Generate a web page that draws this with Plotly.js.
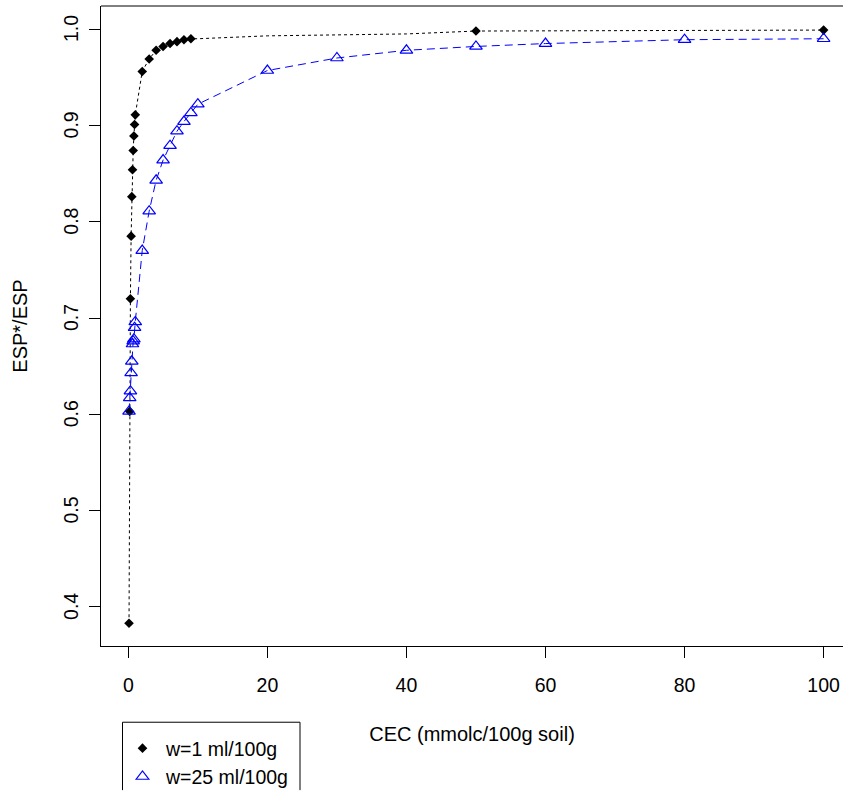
<!DOCTYPE html>
<html>
<head>
<meta charset="utf-8">
<script src="https://cdn.plot.ly/plotly-3.0.1.min.js"></script>
<style>html,body{margin:0;padding:0;background:#fff;overflow:hidden;width:843px;height:796px;}</style>
</head>
<body>
<div id="chart" style="width:843px;height:796px;overflow:hidden;"></div>
<script>
// ---- data ----
const cecValues = [0.1,0.2,0.3,0.4,0.5,0.6,0.7,0.8,0.9,1.0,2,3,4,5,6,7,8,9];
const w1Ratio   = [0.383,0.603,0.720,0.785,0.826,0.854,0.874,0.889,0.901,0.911,0.956,0.969,0.978,0.982,0.985,0.987,0.989,0.990];
const w1ExtraX  = [50,100];
const w1ExtraY  = [0.998,0.999];
// points along the dotted w=1 curve between the markers
const w1CurveX  = [10,20,30,40];
const w1CurveY  = [0.990,0.993,0.994,0.995];

const w25X = [0.1,0.2,0.3,0.4,0.5,0.6,0.7,0.8,0.9,1.0,2,3,4,5,6,7,8,9,10,20,30,40,50,60,80,100];
const w25Y = [0.603,0.617,0.624,0.643,0.655,0.673,0.676,0.678,0.690,0.696,0.770,0.811,0.843,0.864,0.879,0.894,0.904,0.913,0.922,0.957,0.970,0.978,0.982,0.985,0.989,0.990];

const xTicks = [0,20,40,60,80,100];
const yTicks = [0.4,0.5,0.6,0.7,0.8,0.9,1.0];
const legendNames = ["w=1 ml/100g","w=25 ml/100g"];
const xTitle = "CEC (mmolc/100g soil)";
const yTitle = "ESP*/ESP";

// ---- build traces ----
const w1X = cecValues.concat(w1ExtraX);
const w1Y = w1Ratio.concat(w1ExtraY);
const lineX = cecValues.concat(w1CurveX, w1ExtraX);
const lineY = w1Ratio.concat(w1CurveY, w1ExtraY);

const FONT = '"Liberation Sans", Arial, Helvetica, sans-serif';

const traces = [
  {x: lineX, y: lineY, mode: 'lines', showlegend: false, hoverinfo: 'skip',
   line: {color: '#000000', width: 1, dash: 'dot'}},
  {x: w25X, y: w25Y, mode: 'lines', showlegend: false, hoverinfo: 'skip',
   line: {color: '#0000ff', width: 1, dash: '8px,5px'}},
  {x: w1X, y: w1Y, mode: 'markers', name: legendNames[0],
   marker: {symbol: 'diamond', size: 7.4, color: '#000000'}},
  {x: w25X, y: w25Y, mode: 'markers', name: legendNames[1],
   marker: {symbol: 'triangle-up-open', size: 11, color: '#0000ff', line: {width: 1.2, color: '#0000ff'}}}
];

const W = 843, H = 796, ML = 101, MT = 6, MB = 146;
const plotW = W - ML, plotH = H - MT - MB;
function px2x(p){ return (p - ML) / plotW; }
function py2y(p){ return (H - MB - p) / plotH; }

// rotated y tick labels (R style), placed on the tick values
const yTickAnnotations = yTicks.map(v => ({
  xref: 'paper', yref: 'y', x: px2x(71), y: v, text: v.toFixed(1),
  textangle: -90, showarrow: false, xanchor: 'center', yanchor: 'middle',
  font: {family: FONT, size: 19.5, color: '#000'}
}));

const bx0 = px2x(122.5), bx1 = px2x(300), byT = py2y(726.7), byB = py2y(795);

const layout = {
  width: W, height: H,
  margin: {l: ML, r: 0, t: MT, b: MB, pad: 0},
  paper_bgcolor: '#ffffff', plot_bgcolor: '#ffffff',
  font: {family: FONT, size: 20, color: '#000000'},
  showlegend: true,
  xaxis: {
    range: [-3.93, 102.79], tickvals: xTicks, ticktext: xTicks.map(String),
    showgrid: false, zeroline: false, showline: true, linecolor: '#000', linewidth: 1,
    ticks: 'outside', ticklen: 11, tickwidth: 1, tickcolor: '#000',
    tickfont: {family: FONT, size: 19.5, color: '#000'},
    ticklabelstandoff: 11,
    title: {text: xTitle, font: {family: FONT, size: 20, color: '#000'}, standoff: 31},
    automargin: false, fixedrange: true
  },
  yaxis: {
    range: [0.3594, 1.024], tickvals: yTicks, ticktext: yTicks.map(v => v.toFixed(1)),
    showgrid: false, zeroline: false, showline: true, linecolor: '#000', linewidth: 1,
    ticks: 'outside', ticklen: 11, tickwidth: 1, tickcolor: '#000',
    tickangle: -90,
    tickfont: {family: FONT, size: 19.5, color: 'rgba(0,0,0,0)'},
    ticklabelstandoff: 5,
    title: {text: yTitle, font: {family: FONT, size: 20, color: '#000'}, standoff: 25},
    automargin: false, fixedrange: true
  },
  legend: {
    x: px2x(119), y: py2y(733.5), xanchor: 'left', yanchor: 'top',
    bgcolor: 'rgba(0,0,0,0)', borderwidth: 0,
    font: {family: FONT, size: 19.5, color: '#000'},
    tracegroupgap: 0, itemwidth: 37
  },
  annotations: yTickAnnotations,
  shapes: [
    {type: 'line', xref: 'paper', yref: 'paper', x0: 0, x1: 1, y0: 1, y1: 1,
     line: {color: '#000', width: 1}},
    {type: 'path', xref: 'paper', yref: 'paper',
     path: `M ${bx0},${byB} L ${bx0},${byT} L ${bx1},${byT} L ${bx1},${byB}`,
     line: {color: '#000', width: 1}, fillcolor: 'rgba(0,0,0,0)'}
  ]
};

Plotly.newPlot('chart', traces, layout, {displayModeBar: false, staticPlot: true});
</script>
</body>
</html>
